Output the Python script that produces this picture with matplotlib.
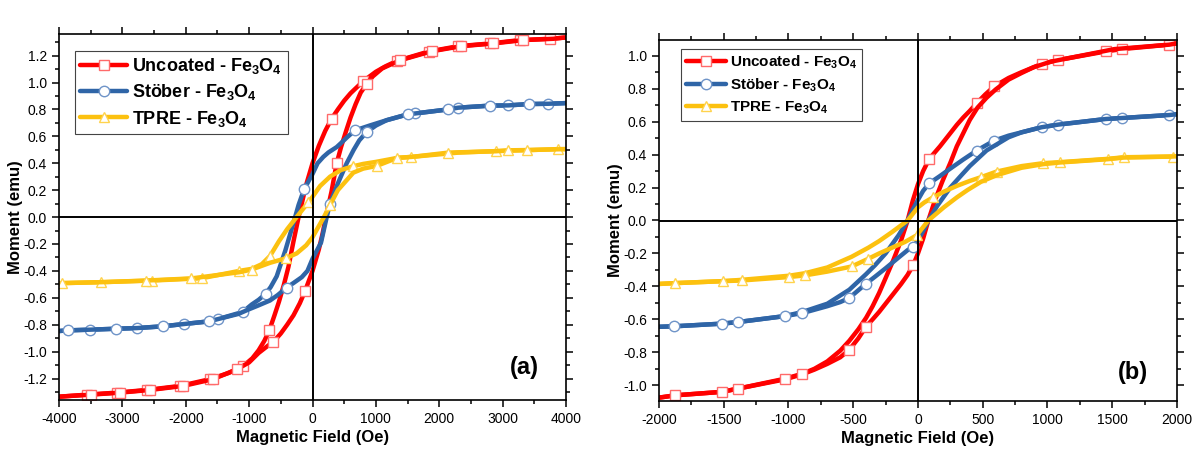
import matplotlib
matplotlib.use('Agg')
import matplotlib.pyplot as plt
from matplotlib.ticker import MultipleLocator

plt.rcParams['font.family'] = ['Liberation Sans', 'DejaVu Sans']
plt.rcParams['mathtext.fontset'] = 'custom'
plt.rcParams['mathtext.rm'] = 'Liberation Sans'
plt.rcParams['mathtext.bf'] = 'Liberation Sans:bold'
plt.rcParams['axes.unicode_minus'] = False

# ---------------- panel (a) : field range +-4000 Oe ----------------
# red - Uncoated (dn = field sweeping down, up = field sweeping up)
a_red_dn_h = [4000, 3750, 3270, 2800, 2300, 1830, 1330, 1150, 1000, 800, 700, 600, 500, 400, 300, 200, 100, 0,
              -100, -160, -220, -300, -380, -450, -530, -600, -680, -760, -850, -950, -1100, -1330, -1620, -2090,
              -2615, -3090, -3560, -4000]
a_red_dn_m = [1.335, 1.325, 1.315, 1.29, 1.27, 1.23, 1.16, 1.12, 1.08, 1.01, 0.965, 0.92, 0.865, 0.80, 0.73, 0.64, 0.53, 0.40,
              0.24, 0.12, 0.0, -0.18, -0.37, -0.50, -0.63, -0.73, -0.84, -0.92, -0.99, -1.05, -1.11, -1.16, -1.205, -1.255,
              -1.285, -1.305, -1.32, -1.335]
a_red_up_h = [-4000, -3500, -3040, -2560, -2040, -1570, -1186, -1000, -850, -700, -618, -500, -400, -300, -200, -118,
              0, 100, 160, 210, 300, 381, 450, 530, 600, 681, 760, 855, 950, 1100, 1380, 1880, 2350, 2850, 3320, 3800, 4000]
a_red_up_m = [-1.335, -1.32, -1.305, -1.285, -1.255, -1.205, -1.13, -1.08, -1.01, -0.955, -0.928, -0.865, -0.80, -0.73, -0.64, -0.55,
              -0.40, -0.24, -0.12, 0.0, 0.19, 0.40, 0.52, 0.64, 0.74, 0.84, 0.925, 0.99, 1.045, 1.105, 1.165, 1.232, 1.27, 1.29, 1.315, 1.325, 1.335]
a_red_dn_mk = [3750, 3270, 2800, 2300, 1830, 1330, 800, 300, -680, -1100, -1620, -2090, -2615, -3090, -3560]
a_red_up_mk = [-3500, -3040, -2560, -2040, -1570, -1186, -618, -118, 381, 855, 1380, 1880, 2350, 2850, 3320]

# blue - Stober
a_blu_dn_h = [4000, 3720, 3420, 3090, 2800, 2300, 2140, 1620, 1500, 1170, 900, 670, 550, 450, 381, 250, 170, 80, 0,
              -134, -220, -303, -430, -565, -660, -738, -850, -960, -1100, -1490, -1630, -2030, -2360, -2770, -3100,
              -3510, -3850, -4000]
a_blu_dn_m = [0.847, 0.842, 0.84, 0.83, 0.828, 0.813, 0.80, 0.77, 0.763, 0.72, 0.68, 0.644, 0.595, 0.55, 0.52, 0.48, 0.447, 0.40, 0.32,
              0.205, 0.09, -0.047, -0.25, -0.44, -0.52, -0.57, -0.615, -0.65, -0.705, -0.758, -0.775, -0.795, -0.812, -0.825, -0.83,
              -0.837, -0.842, -0.847]
a_blu_up_h = [-4000, -3850, -3510, -3100, -2770, -2360, -2030, -1630, -1490, -1170, -1000, -870, -670, -550, -407, -300, -170, -80, 0,
              134, 224, 276, 400, 539, 650, 738, 855, 1000, 1170, 1500, 1620, 2140, 2300, 2800, 3090, 3420, 3720, 4000]
a_blu_up_m = [-0.847, -0.842, -0.837, -0.83, -0.825, -0.812, -0.795, -0.775, -0.758, -0.72, -0.685, -0.66, -0.62, -0.58, -0.524, -0.49, -0.447, -0.40, -0.31,
              -0.19, 0.0, 0.10, 0.25, 0.40, 0.50, 0.57, 0.632, 0.68, 0.72, 0.763, 0.77, 0.80, 0.813, 0.828, 0.83, 0.84, 0.842, 0.847]
a_blu_dn_mk = [3720, 3090, 2300, 1620, 670, -134, -738, -1100, -1490, -2030, -2770, -3510]
a_blu_up_mk = [-3850, -3100, -2360, -1630, -407, 276, 855, 1500, 2140, 2800, 3420]

# yellow - TPRE
a_yel_dn_h = [4000, 3880, 3380, 2890, 2300, 1560, 1340, 1000, 800, 644, 450, 276, 118, 0, -66, -150, -250, -400, -530,
              -670, -800, -960, -1155, -1750, -2540, -3330, -3960, -4000]
a_yel_dn_m = [0.505, 0.505, 0.497, 0.49, 0.479, 0.447, 0.44, 0.41, 0.395, 0.378, 0.35, 0.30, 0.23, 0.15, 0.109, 0.06, 0.0, -0.09, -0.18,
              -0.289, -0.35, -0.385, -0.40, -0.455, -0.472, -0.484, -0.491, -0.495]
a_yel_up_h = [-4000, -3960, -3330, -2630, -1910, -1155, -960, -670, -418, -250, -100, 0, 180, 276, 400, 644, 800, 1012, 1338,
              1564, 2142, 2894, 3088, 3378, 4000]
a_yel_up_m = [-0.495, -0.491, -0.484, -0.472, -0.456, -0.41, -0.39, -0.34, -0.306, -0.27, -0.21, -0.15, 0.0, 0.09, 0.20, 0.33, 0.36, 0.38, 0.44,
              0.447, 0.479, 0.489, 0.496, 0.498, 0.505]
a_yel_dn_mk = [3880, 2890, 1560, 644, -66, -670, -1155, -1750, -2540, -3330]
a_yel_up_mk = [-3960, -2630, -1910, -960, -418, 276, 1012, 1338, 2142, 3088, 3378]

# ---------------- panel (b) : field range +-2000 Oe ----------------
b_red_dn_h = [2000, 1941, 1573, 1452, 1084, 955, 800, 700, 589, 520, 453, 400, 350, 300, 250, 170, 88, 40, 0,
              -40, -80, -130, -190, -250, -300, -350, -400, -460, -530, -600, -700, -800, -893, -1027, -1388,
              -1516, -1876, -2000]
b_red_dn_m = [1.075, 1.067, 1.04, 1.026, 0.974, 0.95, 0.90, 0.865, 0.814, 0.765, 0.711, 0.665, 0.625, 0.58, 0.53, 0.45, 0.375, 0.30, 0.22,
              0.12, 0.0, -0.12, -0.24, -0.35, -0.44, -0.52, -0.59, -0.66, -0.73, -0.79, -0.855, -0.90, -0.93, -0.96, -1.02,
              -1.04, -1.061, -1.075]
b_red_up_h = [-2000, -1876, -1516, -1388, -1027, -893, -800, -700, -600, -530, -460, -402, -350, -300, -250, -200, -130, -80, -36,
              0, 40, 80, 130, 190, 250, 300, 350, 400, 460, 530, 600, 700, 800, 893, 1027, 1388, 1516, 1941, 2000]
b_red_up_m = [-1.075, -1.061, -1.04, -1.02, -0.964, -0.933, -0.905, -0.87, -0.83, -0.784, -0.715, -0.645, -0.60, -0.555, -0.505, -0.455, -0.385, -0.33, -0.27,
              -0.20, -0.11, 0.0, 0.12, 0.24, 0.35, 0.45, 0.53, 0.61, 0.685, 0.745, 0.795, 0.855, 0.895, 0.93, 0.964, 1.02, 1.04, 1.067, 1.075]
b_red_dn_mk = [1941, 1573, 1452, 1084, 955, 589, 453, 88]
b_red_up_mk = [-1876, -1516, -1388, -1027, -893, -530, -402, -36]

b_blu_dn_h = [2000, 1941, 1578, 1452, 1084, 955, 800, 700, 589, 453, 350, 250, 170, 88, 40, 0, -40, -80, -150, -250,
              -330, -400, -530, -700, -893, -1027, -1388, -1516, -1882, -2000]
b_blu_dn_m = [0.645, 0.64, 0.622, 0.616, 0.582, 0.566, 0.535, 0.515, 0.485, 0.424, 0.37, 0.315, 0.27, 0.226, 0.18, 0.125, 0.065, 0.0, -0.09, -0.20,
              -0.27, -0.325, -0.42, -0.505, -0.555, -0.58, -0.616, -0.626, -0.642, -0.645]
b_blu_up_h = [-2000, -1882, -1516, -1388, -1027, -893, -700, -600, -530, -402, -330, -250, -150, -80, -36, 0, 40, 80, 150, 250,
              330, 400, 530, 700, 800, 955, 1084, 1452, 1578, 1941, 2000]
b_blu_up_m = [-0.645, -0.642, -0.626, -0.616, -0.58, -0.562, -0.52, -0.495, -0.47, -0.384, -0.34, -0.29, -0.225, -0.18, -0.158, -0.12, -0.065, 0.0, 0.09, 0.20,
              0.27, 0.33, 0.425, 0.505, 0.535, 0.566, 0.582, 0.616, 0.622, 0.64, 0.645]
b_blu_dn_mk = [1941, 1578, 1452, 1084, 955, 589, 453, 88]
b_blu_up_mk = [-1882, -1516, -1388, -1027, -893, -530, -402, -36]

b_yel_dn_h = [2000, 1967, 1591, 1465, 1097, 968, 800, 608, 487, 400, 300, 200, 118, 50, 0, -80, -200, -300, -383, -512,
              -700, -873, -994, -1361, -1503, -1876, -2000]
b_yel_dn_m = [0.39, 0.388, 0.384, 0.374, 0.354, 0.348, 0.33, 0.297, 0.263, 0.24, 0.21, 0.175, 0.141, 0.11, 0.08, 0.0, -0.07, -0.125, -0.165, -0.22,
              -0.285, -0.32, -0.335, -0.36, -0.368, -0.38, -0.385]
b_yel_up_h = [-2000, -1876, -1503, -1361, -994, -873, -700, -512, -383, -300, -200, -100, -10, 80, 200, 300, 383, 487, 608,
              800, 968, 1097, 1465, 1591, 1967, 2000]
b_yel_up_m = [-0.385, -0.38, -0.368, -0.364, -0.343, -0.333, -0.31, -0.279, -0.232, -0.20, -0.165, -0.13, -0.09, 0.0, 0.08, 0.14, 0.185, 0.235, 0.275,
              0.32, 0.342, 0.352, 0.372, 0.382, 0.388, 0.39]
b_yel_dn_mk = [1967, 1591, 1465, 1097, 968, 608, 487, 118]
b_yel_up_mk = [-1876, -1503, -1361, -994, -873, -512, -383, -10]

labels = ['Uncoated - Fe$_\\mathbf{3}$O$_\\mathbf{4}$',
          'Stöber - Fe$_\\mathbf{3}$O$_\\mathbf{4}$',
          'TPRE - Fe$_\\mathbf{3}$O$_\\mathbf{4}$']

colors = ['#ff0000', '#2f65a7', '#fcc10f']
edges = ['#ff6a6a', '#6f94c8', '#ffd34d']
markers = ['s', 'o', '^']


def branch(ax, h, m, mk, i, label=None):
    idx = [h.index(v) for v in mk]
    ax.plot(h, m, color=colors[i], lw=3.2, marker=markers[i], markevery=idx,
            ms=7 if i != 1 else 7.5, mfc='white', mec=edges[i], mew=1.0,
            solid_capstyle='round', solid_joinstyle='round', label=label, zorder=2)


def style(ax, xlim, ylim, xmaj, xmin):
    ax.set_xlim(xlim)
    ax.set_ylim(ylim)
    ax.xaxis.set_major_locator(MultipleLocator(xmaj))
    ax.xaxis.set_minor_locator(MultipleLocator(xmin))
    ax.yaxis.set_major_locator(MultipleLocator(0.2))
    ax.yaxis.set_minor_locator(MultipleLocator(0.1))
    ax.tick_params(which='both', direction='out', top=True, right=True, labelsize=10, width=1.1)
    ax.tick_params(which='major', length=5)
    ax.tick_params(which='minor', length=3)
    for s in ax.spines.values():
        s.set_linewidth(1.2)
    ax.axhline(0, color='k', lw=1.4, zorder=3)
    ax.axvline(0, color='k', lw=1.4, zorder=3)
    ax.set_xlabel('Magnetic Field (Oe)', fontsize=12, fontweight='bold', labelpad=3)
    ax.set_ylabel('Moment (emu)', fontsize=12, fontweight='bold', labelpad=0)


fig = plt.figure(figsize=(11.99, 4.5), dpi=100)
ax1 = fig.add_axes([0.0492, 0.111, 0.4229, 0.8133])
ax2 = fig.add_axes([0.5496, 0.109, 0.432, 0.802])

branch(ax1, a_red_dn_h, a_red_dn_m, a_red_dn_mk, 0, labels[0])
branch(ax1, a_red_up_h, a_red_up_m, a_red_up_mk, 0)
branch(ax1, a_blu_dn_h, a_blu_dn_m, a_blu_dn_mk, 1, labels[1])
branch(ax1, a_blu_up_h, a_blu_up_m, a_blu_up_mk, 1)
branch(ax1, a_yel_dn_h, a_yel_dn_m, a_yel_dn_mk, 2, labels[2])
branch(ax1, a_yel_up_h, a_yel_up_m, a_yel_up_mk, 2)
style(ax1, (-4000, 4000), (-1.36, 1.36), 1000, 500)

branch(ax2, b_red_dn_h, b_red_dn_m, b_red_dn_mk, 0, labels[0])
branch(ax2, b_red_up_h, b_red_up_m, b_red_up_mk, 0)
branch(ax2, b_blu_dn_h, b_blu_dn_m, b_blu_dn_mk, 1, labels[1])
branch(ax2, b_blu_up_h, b_blu_up_m, b_blu_up_mk, 1)
branch(ax2, b_yel_dn_h, b_yel_dn_m, b_yel_dn_mk, 2, labels[2])
branch(ax2, b_yel_up_h, b_yel_up_m, b_yel_up_mk, 2)
style(ax2, (-2000, 2000), (-1.095, 1.095), 500, 250)

for ax, fs, pos in [(ax1, 13, (0.031, 0.955)), (ax2, 11, (0.043, 0.975))]:
    leg = ax.legend(loc='upper left', bbox_to_anchor=pos, prop={'weight': 'bold', 'size': fs},
                    frameon=True, fancybox=False, edgecolor='#444444', framealpha=1,
                    handlelength=2.6, handletextpad=0.3, labelspacing=0.35, borderpad=0.3,
                    borderaxespad=0, numpoints=1)
    leg.get_frame().set_linewidth(0.8)

ax1.text(0.918, 0.09, '(a)', transform=ax1.transAxes, fontsize=17, fontweight='bold', ha='center', va='center')
ax2.text(0.915, 0.078, '(b)', transform=ax2.transAxes, fontsize=17, fontweight='bold', ha='center', va='center')

fig.savefig('out.png', dpi=100)
